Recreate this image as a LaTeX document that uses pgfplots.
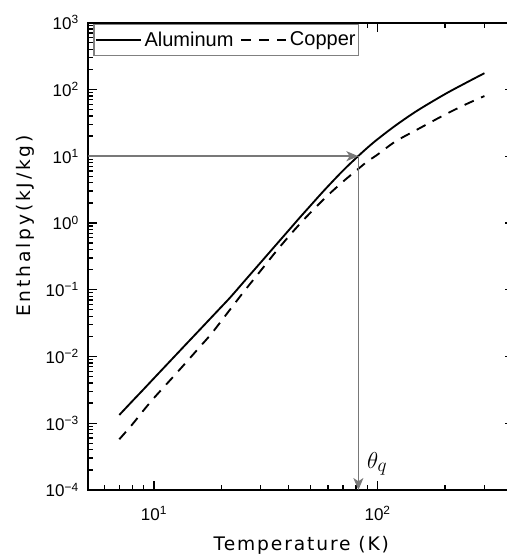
\documentclass[border=0pt]{standalone}
\usepackage{fontspec}
\setmainfont{Liberation Sans}
\newfontfamily\xlabelfont[LetterSpace=10]{DejaVu Sans}
\newfontfamily\ylabelfont[LetterSpace=15]{DejaVu Sans}
\usepackage{pgfplots}
\usepackage{pgfplotstable}
\pgfplotsset{compat=1.18}
\usetikzlibrary{arrows.meta}

\definecolor{guide}{RGB}{120,120,120}

% Enthalpy relative to 0 K, kJ/kg
\pgfplotstableread{
T     H
7     0.00133
8     0.00214
9     0.00324
10    0.00472
12    0.00902
14    0.0156
16    0.0250
18    0.0380
20    0.0552
22    0.0776
25    0.127
30    0.256
35    0.463
40    0.774
45    1.218
50    1.808
55    2.585
60    3.549
70    6.09
80    9.35
90    13.4
100   18.0
120   28.7
150   47.9
200   85.1
250   127.2
300   175
}\aluminum

\pgfplotstableread{
T     H
7     0.000575
8     0.00096
9     0.00157
10    0.00239
12    0.00468
14    0.00832
16    0.0138
18    0.0216
20    0.034
25    0.090
30    0.193
35    0.368
40    0.626
45    0.976
50    1.42
60    2.61
70    4.16
80    6.05
90    8.35
100   10.6
120   16.6
150   25.0
200   42.0
250   60.6
300   79.5
}\copper

\begin{document}
\begin{tikzpicture}
\begin{axis}[
  at={(0,0)}, anchor=south west,
  scale only axis,
  width=319.65pt, height=350.5pt,
  xmode=log, ymode=log,
  xmin=5.086, xmax=408.8, ymin=1e-4, ymax=1e3,
  axis line style={line width=1.3pt},
  tick style={black, line width=1pt},
  major tick length=6.75pt,
  minor tick length=3.75pt,
  tick align=inside,
  xtick={10,100},
  xticklabels={10\textsuperscript{1},10\textsuperscript{2}},
  minor xtick={6,7,8,9,20,30,40,50,60,70,80,90,200,300,400},
  ytick={1e-4,1e-3,1e-2,1e-1,1,10,100,1000},
  yticklabels={10\textsuperscript{−4},10\textsuperscript{−3},10\textsuperscript{−2},10\textsuperscript{−1},10\textsuperscript{0},10\textsuperscript{1},10\textsuperscript{2},10\textsuperscript{3}},
  minor ytick={2e-4,3e-4,4e-4,5e-4,6e-4,7e-4,8e-4,9e-4,
               2e-3,3e-3,4e-3,5e-3,6e-3,7e-3,8e-3,9e-3,
               0.02,0.03,0.04,0.05,0.06,0.07,0.08,0.09,
               0.2,0.3,0.4,0.5,0.6,0.7,0.8,0.9,
               2,3,4,5,6,7,8,9,
               20,30,40,50,60,70,80,90,
               200,300,400,500,600,700,800,900},
  tick label style={font=\fontsize{12.75}{14}\selectfont},
  xticklabel style={yshift=-8.5pt},
  yticklabel style={xshift=-3.5pt},
  xlabel={Temperature (K)},
  ylabel={Enthalpy(kJ/kg)},
  xlabel style={at={(axis description cs:0.5,-0.1177)}, anchor=center,
                font=\xlabelfont\fontsize{14}{16}\selectfont},
  ylabel style={at={(axis description cs:-0.147,0.565)}, anchor=center,
                font=\ylabelfont\fontsize{14}{16}\selectfont},
  legend columns=2,
  legend image code/.code={\draw[#1] (0pt,0pt) -- (34pt,0pt);},
  legend style={
    at={(axis description cs:0.012,0.998)}, anchor=north west,
    draw=gray, line width=0.9pt, fill=white,
    inner xsep=0.5pt, inner ysep=3.5pt,
    font=\fontsize{15}{16}\selectfont,
    nodes={inner sep=2pt, text depth=0.15em},
    /tikz/every even column/.append style={column sep=3pt},
  },
]
\addplot[black, line width=1.4pt, smooth] table[x=T, y=H] {\aluminum};
\addlegendentry{Aluminum}
\addplot[black, line width=1.4pt, smooth, dash pattern=on 7.5pt off 6pt] table[x=T, y=H] {\copper};
\addlegendentry{Copper}

% read-off guide at 10 kJ/kg
\addplot[guide, line width=1.2pt, forget plot,
  -{Stealth[length=9pt, width=7.5pt, inset=2.5pt]}] coordinates {(5.086,10) (82,10)};
\addplot[guide, line width=1.2pt, forget plot,
  -{Stealth[length=9pt, width=7.5pt, inset=2.5pt]}] coordinates {(82,10) (82,1e-4)};
\node[anchor=base west, inner sep=0pt, font=\fontsize{19}{19}\selectfont]
  at (axis cs:89.5,2.1e-4) {$\theta_q$};
\end{axis}
\pgfresetboundingbox
\path[use as bounding box] (-66.2pt,-49.5pt) rectangle (314.0pt,367.5pt);
\end{tikzpicture}
\end{document}
